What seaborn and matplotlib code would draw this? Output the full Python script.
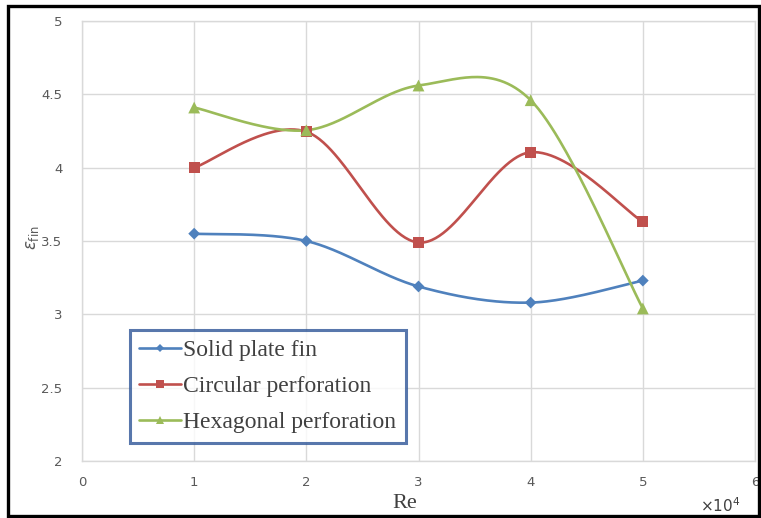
import numpy as np
import pandas as pd
import seaborn as sns
import matplotlib
matplotlib.use("Agg")
import matplotlib.pyplot as plt
from matplotlib.lines import Line2D
from matplotlib.patches import Rectangle

# Reynolds number (x 10^4) and fin effectiveness for each fin type
re_values = [1, 2, 3, 4, 5]
solid_plate = [3.55, 3.50, 3.19, 3.08, 3.23]
circular_perf = [4.00, 4.245, 3.49, 4.105, 3.63]
hexagonal_perf = [4.41, 4.255, 4.56, 4.46, 3.04]

series_names = ["Solid plate fin", "Circular perforation", "Hexagonal perforation"]
series_values = [solid_plate, circular_perf, hexagonal_perf]
series_colors = ["#4F81BD", "#C0504D", "#9BBB59"]
series_markers = ["D", "s", "^"]
marker_sizes = [6, 8, 8.5]

x_ticks = [0, 1, 2, 3, 4, 5, 6]
y_ticks = [2, 2.5, 3, 3.5, 4, 4.5, 5]


def smooth_curve(xs, ys, n=60):
    """Spreadsheet-style smoothed line: cubic Bezier segments whose control
    points follow the neighbouring points (Catmull-Rom tangents)."""
    pts = np.column_stack([xs, ys]).astype(float)
    out = []
    t = np.linspace(0, 1, n)[:, None]
    for i in range(len(pts) - 1):
        p0 = pts[i - 1] if i > 0 else pts[i]
        p1 = pts[i]
        p2 = pts[i + 1]
        p3 = pts[i + 2] if i + 2 < len(pts) else pts[i + 1]
        c1 = p1 + (p2 - p0) / 6.0
        c2 = p2 - (p3 - p1) / 6.0
        seg = ((1 - t) ** 3) * p1 + 3 * ((1 - t) ** 2) * t * c1 \
            + 3 * (1 - t) * t ** 2 * c2 + t ** 3 * p2
        out.append(seg if i == 0 else seg[1:])
    seg = np.vstack(out)
    return seg[:, 0], seg[:, 1]


sns.set_theme(style="white")
plt.rcParams["font.family"] = ["DejaVu Sans"]

fig = plt.figure(figsize=(7.61, 5.18), dpi=100)
ax = fig.add_axes([82 / 761, 57 / 518, 673 / 761, 440 / 518])

curve_frames = []
point_frames = []
for name, vals in zip(series_names, series_values):
    cx, cy = smooth_curve(re_values, vals)
    curve_frames.append(pd.DataFrame({"Re": cx, "eff": cy, "series": name,
                                      "order": np.arange(len(cx))}))
    point_frames.append(pd.DataFrame({"Re": re_values, "eff": vals, "series": name}))
curves = pd.concat(curve_frames, ignore_index=True)
points = pd.concat(point_frames, ignore_index=True)

palette = dict(zip(series_names, series_colors))
sns.lineplot(data=curves, x="Re", y="eff", hue="series", units="series",
             estimator=None, sort=False, palette=palette, linewidth=1.9,
             legend=False, ax=ax, zorder=3)
for name, marker, ms in zip(series_names, series_markers, marker_sizes):
    sub = points[points["series"] == name]
    sns.scatterplot(data=sub, x="Re", y="eff", color=palette[name], marker=marker,
                    s=ms ** 2, edgecolor="none", linewidth=0, legend=False,
                    ax=ax, zorder=4)

ax.set_xlim(0, 6)
ax.set_ylim(2, 5)
ax.set_xticks(x_ticks)
ax.set_yticks(y_ticks)
ax.set_xticklabels([str(v) for v in x_ticks])
ax.set_yticklabels([f"{v:g}" for v in y_ticks])
ax.grid(True, color="#D9D9D9", linewidth=1.0)
for side in ax.spines.values():
    side.set_color("#D9D9D9")
    side.set_linewidth(1.0)
ax.tick_params(axis="both", length=0, colors="#595959", labelsize=9.5)
ax.tick_params(axis="x", pad=11)
ax.tick_params(axis="y", pad=14)
ax.set_xlabel("")
ax.set_ylabel("")

fig.text(405 / 761, 1 - 503 / 518, "Re", family="Liberation Serif", fontsize=16,
         color="#404040", ha="center", va="center")
fig.text(720 / 761, 1 - 506 / 518, r"×10$^4$", fontsize=11, color="#404040",
         ha="center", va="center")
fig.text(32 / 761, 1 - 238 / 518, r"$\varepsilon_{\mathrm{fin}}$", fontsize=12,
         color="#595959", rotation=90, ha="center", va="center")

handles = [Line2D([0], [0], color=c, marker=m, markersize=ms * 0.7, linewidth=1.9,
                  markeredgewidth=0)
           for c, m, ms in zip(series_colors, series_markers, marker_sizes)]
leg = ax.legend(handles, series_names, loc="upper left",
                bbox_to_anchor=(0.0713, 0.2977), frameon=True, fancybox=False,
                prop={"family": "Liberation Serif", "size": 17},
                handlelength=1.75, handletextpad=0.1, labelspacing=0.62,
                borderpad=0.4, borderaxespad=0)
leg.get_frame().set_edgecolor("#2E5597")
leg.get_frame().set_linewidth(2.2)
for t in leg.get_texts():
    t.set_color("#404040")

fig.patches.append(Rectangle((8 / 761, 2 / 518), 751 / 761, 510 / 518,
                             transform=fig.transFigure, fill=False,
                             edgecolor="black", linewidth=2.4))

fig.savefig("out.png", dpi=100)
